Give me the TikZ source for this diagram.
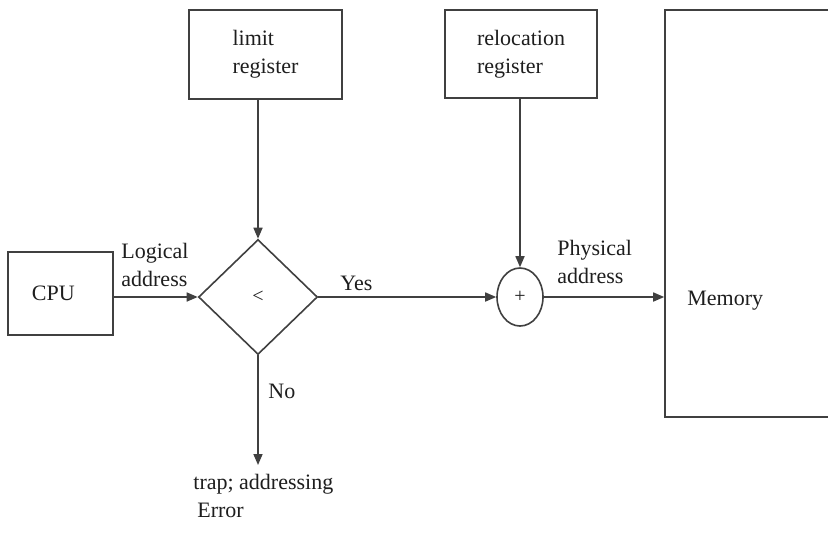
\documentclass[tikz,border=0pt]{standalone}
\usepackage{fontspec}
\setmainfont{Liberation Serif}
\usetikzlibrary{shapes.geometric,arrows.meta}
\definecolor{linegray}{HTML}{404040}
\definecolor{textblack}{HTML}{1E1E1E}
\tikzset{
  box/.style={draw=linegray, line width=0.8pt, rectangle, inner sep=0pt, text=textblack, font=\fontsize{11}{14}\selectfont},
  lbl/.style={inner sep=0pt, text=textblack, font=\fontsize{11}{14}\selectfont, align=left},
  arr/.style={draw=linegray, line width=0.8pt, -{Triangle[length=5.5pt,width=4.5pt]}},
  ln/.style={draw=linegray, line width=0.8pt},
}
\begin{document}
\begin{tikzpicture}[x=0.5pt,y=-0.5pt]
\useasboundingbox[fill=white] (0,0) rectangle (828,532);
% CPU
\node[box, minimum width=52.5pt, minimum height=41.5pt, inner xsep=12pt, text width=28.5pt, align=left] (cpu) at (60.5,293.5) {CPU};
% comparator diamond
\node[box, diamond, minimum width=59.5pt, minimum height=57.5pt, font=\fontsize{10}{12}\selectfont] (cmp) at (258,297) {<};
% limit register
\node[box, minimum width=76.5pt, minimum height=44.5pt, align=left] (lim) at (265.5,54.5) {limit\\register};
% relocation register
\node[box, minimum width=76pt, minimum height=44pt, align=left] (rel) at (521,54) {relocation\\register};
% adder
\node[box, ellipse, minimum width=23pt, minimum height=29pt, font=\fontsize{10}{12}\selectfont] (add) at (520,297) {+};
% memory
\node[box, minimum width=87pt, minimum height=203.5pt] (mem) at (752,213.5) {};
\node[lbl, anchor=base west] (memlbl) at (687,305) {Memory};
% trap end
\coordinate (trap) at (258,465);
\node[lbl, anchor=north west] (traplbl) at (193,474) {trap; addressing\\\hspace{2pt}Error};
% connectors
\draw[arr] (cpu.east |- cmp.west) -- (cmp.west);
\draw[arr] (lim.south -| cmp.north) -- (cmp.north);
\draw[arr] (cmp.east) -- (add.west);
\draw[arr] (rel.south -| add.north) -- (add.north);
\draw[arr] (add.east) -- (add.east -| mem.west);
\draw[arr] (cmp.south) -- (trap);
% labels
\node[lbl, anchor=north west] (logl) at (121,243) {Logical\\address};
\node[lbl, anchor=base west] (yesl) at (340,290) {Yes};
\node[lbl, anchor=north west] (phyl) at (557,240) {Physical\\address};
\node[lbl, anchor=base west] (nol) at (268,398) {No};
\end{tikzpicture}
\end{document}
